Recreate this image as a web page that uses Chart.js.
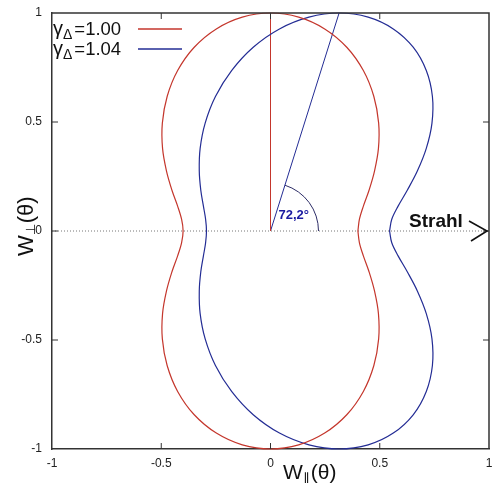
<!DOCTYPE html>
<html>
<head>
<meta charset="utf-8">
<script src="https://cdn.jsdelivr.net/npm/chart.js@4/dist/chart.umd.min.js"></script>
<style>
  html, body { margin: 0; padding: 0; background: #fff; }
</style>
</head>
<body>
<canvas id="myChart" width="492" height="483"></canvas>
<script>
// Werte
const tickValues = [-1, -0.5, 0, 0.5, 1];
const gammaLabels = ['1.00', '1.04'];
const seriesColors = ['#c4362c', '#232c94'];

// gamma = 1.00 (rot)
const redX = [0.40, 0.407, 0.425, 0.451, 0.476, 0.494, 0.495, 0.473, 0.425, 0.349, 0.248, 0.129, 0,
  -0.129, -0.248, -0.349, -0.425, -0.473, -0.495, -0.494, -0.476, -0.451, -0.425, -0.407, -0.40,
  -0.407, -0.425, -0.451, -0.476, -0.494, -0.495, -0.473, -0.425, -0.349, -0.248, -0.129, 0,
  0.129, 0.248, 0.349, 0.425, 0.473, 0.495, 0.494, 0.476, 0.451, 0.425, 0.407, 0.40];
const redY = [0, 0.054, 0.114, 0.187, 0.275, 0.379, 0.495, 0.617, 0.736, 0.843, 0.927, 0.981, 1,
  0.981, 0.927, 0.843, 0.736, 0.617, 0.495, 0.379, 0.275, 0.187, 0.114, 0.054, 0,
  -0.054, -0.114, -0.187, -0.275, -0.379, -0.495, -0.617, -0.736, -0.843, -0.927, -0.981, -1,
  -0.981, -0.927, -0.843, -0.736, -0.617, -0.495, -0.379, -0.275, -0.187, -0.114, -0.054, 0];

// gamma = 1.04 (blau)
const blueX = [0.545, 0.555, 0.584, 0.626, 0.672, 0.713, 0.739, 0.741, 0.713, 0.653, 0.562, 0.447, 0.314,
  0.176, 0.041, -0.079, -0.178, -0.252, -0.299, -0.322, -0.326, -0.319, -0.307, -0.297, -0.293,
  -0.297, -0.307, -0.319, -0.326, -0.322, -0.299, -0.252, -0.178, -0.079, 0.041, 0.176, 0.314,
  0.447, 0.562, 0.653, 0.713, 0.741, 0.739, 0.713, 0.672, 0.626, 0.584, 0.555, 0.545];
const blueY = redY.slice();

// Hilfslinien vom Ursprung
const redRay = [[0, 0], [0, 1]];
const blueRay = [[0, 0], [0.314, 1]];
const angleText = '72,2°';
const beamText = 'Strahl';

const toPoints = (xs, ys) => xs.map((x, i) => ({ x: x, y: ys[i] }));
const pairPoints = (arr) => arr.map(p => ({ x: p[0], y: p[1] }));

const FONT = '"Liberation Sans", Arial, sans-serif';

// Rahmen, Ticks nach innen, Beschriftungen, Legende
const overlay = {
  id: 'overlay',
  afterDraw(chart) {
    const { ctx, chartArea: a, scales: { x, y } } = chart;
    const ox = x.getPixelForValue(0), oy = y.getPixelForValue(0);
    ctx.save();

    const line = (x1, y1, x2, y2) => { ctx.beginPath(); ctx.moveTo(x1, y1); ctx.lineTo(x2, y2); ctx.stroke(); };

    ctx.strokeStyle = '#333';
    ctx.lineWidth = 1.5;
    ctx.beginPath();
    ctx.moveTo(a.left, a.top); ctx.lineTo(a.right, a.top); ctx.lineTo(a.right, a.bottom);
    ctx.stroke();

    ctx.lineWidth = 1;
    tickValues.slice(1, -1).forEach(v => {
      const px = x.getPixelForValue(v), py = y.getPixelForValue(v);
      line(px, a.bottom, px, a.bottom - 6);
      line(px, a.top, px, a.top + 6);
      line(a.left, py, a.left + 6, py);
      line(a.right, py, a.right - 6, py);
    });

    // Winkelbogen
    const bx = x.getPixelForValue(blueRay[1][0]), by = y.getPixelForValue(blueRay[1][1]);
    const endAngle = Math.atan2(by - oy, bx - ox);
    ctx.strokeStyle = '#2c2c66';
    ctx.lineWidth = 1;
    ctx.beginPath();
    ctx.arc(ox, oy, 48, 0, endAngle, true);
    ctx.stroke();

    ctx.fillStyle = '#1a1aa0';
    ctx.font = 'bold 13px ' + FONT;
    ctx.textBaseline = 'alphabetic';
    ctx.fillText(angleText, ox + 8, oy - 12);

    // Strahl mit Pfeil
    ctx.fillStyle = '#111';
    ctx.font = 'bold 19px ' + FONT;
    ctx.fillText(beamText, a.right - 80, oy - 4);
    ctx.strokeStyle = '#111';
    ctx.lineWidth = 1.6;
    ctx.beginPath();
    ctx.moveTo(a.right - 20, oy - 10);
    ctx.lineTo(a.right - 2, oy);
    ctx.lineTo(a.right - 18, oy + 10);
    ctx.stroke();

    // Legende
    gammaLabels.forEach((g, i) => {
      const base = a.top + 22 + i * 20;
      let tx = a.left + 1;
      ctx.fillStyle = '#111';
      ctx.font = '20px ' + FONT;
      ctx.fillText('γ', tx, base);
      tx += ctx.measureText('γ').width;
      ctx.font = '14px ' + FONT;
      ctx.fillText('Δ', tx, base + 4);
      tx += ctx.measureText('Δ').width + 2;
      ctx.font = '18.5px ' + FONT;
      ctx.fillText('=' + g, tx, base);
      ctx.strokeStyle = seriesColors[i];
      ctx.lineWidth = 1.3;
      line(a.left + 86, base - 6, a.left + 130, base - 6);
    });

    // Achsentitel x
    ctx.fillStyle = '#111';
    let tx = 283;
    ctx.font = '21px ' + FONT;
    ctx.fillText('W', tx, 479);
    tx += ctx.measureText('W').width;
    ctx.font = '14px ' + FONT;
    ctx.fillText('∥', tx, 483);
    tx += ctx.measureText('∥').width + 1;
    ctx.font = '21px ' + FONT;
    ctx.fillText('(θ)', tx, 479);

    // Achsentitel y
    ctx.translate(33, 256);
    ctx.rotate(-Math.PI / 2);
    tx = 0;
    ctx.font = '22px ' + FONT;
    ctx.fillText('W', tx, 0);
    tx += ctx.measureText('W').width;
    ctx.font = '13px ' + FONT;
    ctx.fillText('⊥', tx, 1.5);
    tx += ctx.measureText('⊥').width + 1;
    ctx.font = '22px ' + FONT;
    ctx.fillText('(θ)', tx, 0);

    ctx.restore();
  }
};

const lineSet = (data, color, extra) => Object.assign({
  data: data,
  showLine: true,
  borderColor: color,
  borderWidth: 1.2,
  pointRadius: 0,
  tension: 0,
  clip: false
}, extra || {});

const config = {
  type: 'scatter',
  data: {
    datasets: [
      lineSet(toPoints(redX, redY), seriesColors[0], { tension: 0.35 }),
      lineSet(toPoints(blueX, blueY), seriesColors[1], { tension: 0.35 }),
      lineSet(pairPoints(redRay), seriesColors[0], { borderWidth: 1 }),
      lineSet(pairPoints(blueRay), seriesColors[1], { borderWidth: 1 }),
      lineSet([{ x: tickValues[0], y: 0 }, { x: tickValues[tickValues.length - 1], y: 0 }], '#777',
        { borderWidth: 1, borderDash: [1, 2] })
    ]
  },
  options: {
    responsive: false,
    animation: false,
    layout: { padding: { top: 13, right: 3, left: 0, bottom: 0 } },
    plugins: { legend: { display: false }, tooltip: { enabled: false } },
    scales: {
      x: {
        type: 'linear', min: -1, max: 1,
        afterBuildTicks: s => { s.ticks = tickValues.map(v => ({ value: v })); },
        afterFit: s => { s.height = 34; s.paddingLeft = 0; s.paddingRight = 0; },
        grid: { drawOnChartArea: false, drawTicks: false },
        border: { color: '#333', width: 1.5 },
        ticks: { padding: 7, color: '#222', maxRotation: 0, autoSkip: false, callback: v => String(v),
          font: { size: 12, family: FONT } }
      },
      y: {
        type: 'linear', min: -1, max: 1,
        afterBuildTicks: s => { s.ticks = tickValues.map(v => ({ value: v })); },
        afterFit: s => { s.width = 52; s.paddingTop = 0; s.paddingBottom = 0; },
        grid: { drawOnChartArea: false, drawTicks: false },
        border: { color: '#333', width: 1.5 },
        ticks: { padding: 10, color: '#222', autoSkip: false, callback: v => String(v),
          font: { size: 12, family: FONT } }
      }
    }
  },
  plugins: [overlay]
};

new Chart(document.getElementById('myChart'), config);
</script>
</body>
</html>
